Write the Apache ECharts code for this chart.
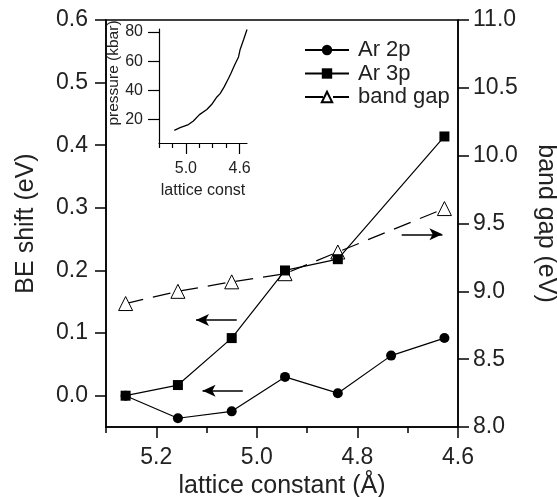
<!DOCTYPE html>
<html>
<head>
<meta charset="utf-8">
<script src="https://cdn.jsdelivr.net/npm/echarts@6/dist/echarts.min.js"></script>
<style>
html,body{margin:0;padding:0;background:#fff;}
#chart{width:557px;height:497px;}
</style>
</head>
<body>
<div id="chart"></div>
<script>
// ---- data ----
var lattice2p = [5.261, 5.157, 5.050, 4.944, 4.839, 4.733, 4.627];
var ar2p      = [0.000, -0.036, -0.025, 0.030, 0.004, 0.064, 0.092];
var lattice3p = [5.261, 5.157, 5.050, 4.944, 4.839, 4.627];
var ar3p      = [0.000, 0.017, 0.092, 0.200, 0.218, 0.414];
var latticeGap = [5.261, 5.157, 5.050, 4.944, 4.839, 4.627];
var bandGap    = [8.91, 9.00, 9.07, 9.13, 9.29, 9.61];
// inset: pressure vs lattice constant
var insetLattice  = [5.086, 5.043, 4.981, 4.944, 4.899, 4.844, 4.807, 4.769, 4.745, 4.715, 4.683, 4.665, 4.638, 4.608, 4.596, 4.570, 4.545];
var insetPressure = [12.7, 14.5, 16.6, 19.1, 23.4, 26.9, 30.5, 35.5, 37.8, 42.4, 48.1, 51.5, 57.2, 62.9, 68.0, 74.8, 81.7];
// tick labels
var xMajorTicks = [4.6, 4.8, 5.0, 5.2];
var xMinorTicks = [4.7, 4.9, 5.1, 5.3];
var yLeftTicks = [0, 0.1, 0.2, 0.3, 0.4, 0.5, 0.6];
var insetXMajor = [5.0, 4.6];
var insetXMinor = [5.2, 5.1, 4.9, 4.8, 4.7];
var insetYTicks = [20, 40, 60, 80];
// arrows: [x1, x2, y]
var arrowLeft1 = [5.040, 5.121, 0.121];
var arrowLeft2 = [5.028, 5.108, 0.008];
var arrowRight = [4.712, 4.631, 9.42];

function zip(a, b) { return a.map(function (v, i) { return [v, b[i]]; }); }

var FONT = 'Liberation Sans, Arial, Helvetica, sans-serif';
var TXT = '#222';
var AX = { lineStyle: { color: '#000', width: 1.5 } };

var chart = echarts.init(document.getElementById('chart'), null, { renderer: 'canvas' });

function arrowLine(a) {
  return {
    silent: true,
    symbol: ['none', 'arrow'],
    symbolSize: [9, 13],
    lineStyle: { color: '#000', width: 1.5, type: 'solid' },
    label: { show: false },
    emphasis: { disabled: true },
    data: [[{ coord: [a[0], a[2]] }, { coord: [a[1], a[2]] }]]
  };
}

var option = {
  animation: false,
  backgroundColor: '#fff',
  textStyle: { fontFamily: FONT, color: TXT },
  grid: [
    { left: 106, right: 99, top: 20, bottom: 70, show: true, borderColor: '#000', borderWidth: 1.5, backgroundColor: 'transparent', outerBoundsMode: 'none', containLabel: false },
    { left: 159, width: 88, top: 29, height: 114, outerBoundsMode: 'none', containLabel: false }
  ],
  legend: {
    orient: 'vertical',
    left: 299,
    top: 34,
    itemWidth: 44,
    itemHeight: 13,
    itemGap: 1.5,
    textStyle: { fontFamily: FONT, fontSize: 22, color: TXT, padding: [0, 0, 0, 4] },
    data: ['Ar 2p', 'Ar 3p', 'band gap']
  },
  xAxis: [
    {
      type: 'value', gridIndex: 0, min: 4.6, max: 5.3, inverse: true, position: 'bottom',
      name: 'lattice constant (Å)', nameLocation: 'middle', nameGap: 45,
      nameTextStyle: { fontFamily: FONT, fontSize: 25, color: TXT },
      axisLine: { show: true, onZero: false, lineStyle: AX.lineStyle },
      axisTick: { show: true, inside: false, length: 11, lineStyle: AX.lineStyle, customValues: xMajorTicks },
      axisLabel: { show: true, margin: 19, fontFamily: FONT, fontSize: 23, color: TXT, customValues: xMajorTicks, formatter: function (v) { return v.toFixed(1); } },
      splitLine: { show: false }
    },
    {
      type: 'value', gridIndex: 0, min: 4.6, max: 5.3, inverse: true, position: 'bottom',
      axisLine: { show: false, onZero: false },
      axisTick: { show: true, inside: false, length: 6, lineStyle: AX.lineStyle, customValues: xMinorTicks },
      axisLabel: { show: false },
      splitLine: { show: false }
    },
    {
      type: 'value', gridIndex: 1, min: 4.545, max: 5.2, inverse: true, position: 'bottom',
      name: 'lattice const', nameLocation: 'middle', nameGap: 40,
      nameTextStyle: { fontFamily: FONT, fontSize: 16, color: TXT },
      axisLine: { show: true, onZero: false, lineStyle: { color: '#000', width: 1.2 } },
      axisTick: { show: true, inside: false, length: 11, lineStyle: { color: '#000', width: 1.2 }, customValues: insetXMajor },
      axisLabel: { show: true, margin: 18, fontFamily: FONT, fontSize: 16, color: TXT, customValues: insetXMajor, formatter: function (v) { return v.toFixed(1); } },
      splitLine: { show: false }
    },
    {
      type: 'value', gridIndex: 1, min: 4.545, max: 5.2, inverse: true, position: 'bottom',
      axisLine: { show: false, onZero: false },
      axisTick: { show: true, inside: false, length: 5, lineStyle: { color: '#000', width: 1.2 }, customValues: insetXMinor },
      axisLabel: { show: false },
      splitLine: { show: false }
    }
  ],
  yAxis: [
    {
      type: 'value', gridIndex: 0, min: -0.05, max: 0.6, position: 'left',
      name: 'BE shift (eV)', nameLocation: 'middle', nameGap: 67, nameRotate: 90,
      nameTextStyle: { fontFamily: FONT, fontSize: 25, color: TXT },
      axisLine: { show: true, onZero: false, lineStyle: AX.lineStyle },
      axisTick: { show: true, inside: false, length: 11, lineStyle: AX.lineStyle, customValues: yLeftTicks },
      axisLabel: { show: true, margin: 18, fontFamily: FONT, fontSize: 23, color: TXT, customValues: yLeftTicks, formatter: function (v) { return v.toFixed(1); } },
      splitLine: { show: false }
    },
    {
      type: 'value', gridIndex: 0, min: 8, max: 11, interval: 0.5, position: 'right',
      name: 'band gap (eV)', nameLocation: 'middle', nameGap: 75, nameRotate: -90,
      nameTextStyle: { fontFamily: FONT, fontSize: 25, color: TXT },
      axisLine: { show: true, onZero: false, lineStyle: AX.lineStyle },
      axisTick: { show: true, inside: false, length: 11, lineStyle: AX.lineStyle },
      axisLabel: { show: true, margin: 15, fontFamily: FONT, fontSize: 23, color: TXT, formatter: function (v) { return v.toFixed(1); } },
      splitLine: { show: false }
    },
    {
      type: 'value', gridIndex: 1, min: 4, max: 82, position: 'left',
      name: 'pressure (kbar)', nameLocation: 'middle', nameGap: 36, nameRotate: 90,
      nameTextStyle: { fontFamily: FONT, fontSize: 15.5, color: TXT, padding: [0, 0, 0, 26] },
      axisLine: { show: true, onZero: false, lineStyle: { color: '#000', width: 1.2 } },
      axisTick: { show: true, inside: false, length: 11, lineStyle: { color: '#000', width: 1.2 }, customValues: insetYTicks },
      axisLabel: { show: true, margin: 16, fontFamily: FONT, fontSize: 16, color: TXT, customValues: insetYTicks },
      splitLine: { show: false }
    }
  ],
  series: [
    {
      name: 'band gap', type: 'line', xAxisIndex: 0, yAxisIndex: 1,
      data: zip(latticeGap, bandGap),
      symbol: 'triangle', symbolSize: 14, showSymbol: true,
      itemStyle: { color: '#fff', borderColor: '#000', borderWidth: 1 },
      lineStyle: { color: '#000', width: 1.2, type: [18, 10] },
      markLine: arrowLine(arrowRight),
      z: 2
    },
    {
      name: 'Ar 2p', type: 'line', xAxisIndex: 0, yAxisIndex: 0,
      data: zip(lattice2p, ar2p),
      symbol: 'circle', symbolSize: 10,
      itemStyle: { color: '#000', borderColor: '#000', borderWidth: 0 },
      lineStyle: { color: '#000', width: 1.2 },
      markLine: arrowLine(arrowLeft2),
      z: 3
    },
    {
      name: 'Ar 3p', type: 'line', xAxisIndex: 0, yAxisIndex: 0,
      data: zip(lattice3p, ar3p),
      symbol: 'rect', symbolSize: 10,
      itemStyle: { color: '#000', borderColor: '#000', borderWidth: 0 },
      lineStyle: { color: '#000', width: 1.2 },
      markLine: arrowLine(arrowLeft1),
      z: 3
    },
    {
      name: 'pressure', type: 'line', xAxisIndex: 2, yAxisIndex: 2,
      data: zip(insetLattice, insetPressure),
      showSymbol: false, symbol: 'none', smooth: false,
      lineStyle: { color: '#000', width: 1.3 }
    }
  ]
};
chart.setOption(option);
</script>
</body>
</html>
